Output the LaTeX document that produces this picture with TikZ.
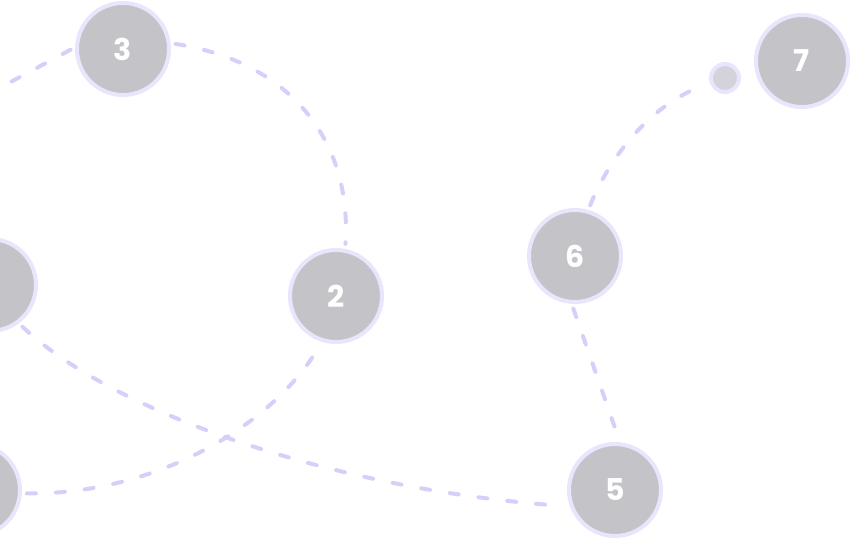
\documentclass[tikz,border=0pt]{standalone}
\usepackage{fontspec}
\newfontfamily\numfont{Poppins}
\definecolor{nodefill}{HTML}{C4C3C8}
\definecolor{smallfill}{HTML}{D4D2DB}
\definecolor{nodering}{HTML}{E8E5FC}
\definecolor{linkcol}{HTML}{D6CFFA}
\tikzset{
  bignode/.style={circle, fill=nodefill, draw=nodering, line width=4pt, minimum size=92pt, inner sep=0pt,
    text=white, font=\numfont\bfseries\fontsize{30}{30}\selectfont},
  smallnode/.style={circle, fill=smallfill, draw=nodering, line width=4pt, minimum size=28pt, inner sep=0pt},
  link/.style={draw=linkcol, line width=4pt, line cap=round, dash pattern=on 9pt off 20pt,
    shorten <=5pt, shorten >=5pt}
}
\begin{document}
\begin{tikzpicture}[x=1pt,y=-1pt]
\useasboundingbox (0,0) rectangle (853,540);
\clip (0,0) rectangle (853,540);
\node[bignode] (n3) at (123,49) {3};
\node[bignode] (n2) at (336,296) {2};
\node[bignode] (n6) at (575,256) {6};
\node[bignode] (n5) at (615,490) {5};
\node[bignode] (n7) at (802,61) {7};
\node[smallnode] (s7) at (725,78) {};
\node[bignode] (n4) at (-10,285) {4};
\node[bignode] (n1) at (-26,490) {};
\coordinate (off1) at (-60,120);
\draw[link] (n3.178) -- (off1);
\draw[link] (n3.7) .. controls (290,62) and (352,140) .. (n2.79);
\draw[link] (n6.74) .. controls (615,145) and (660,100) .. (s7.200);
\draw[link] (n6.-94) -- (n5.84);
\draw[link] (n4.-53) .. controls (110,410) and (330,490) .. (n5.200);
\draw[link] (n1.-4) .. controls (150,495) and (270,430) .. (n2.-107);
\end{tikzpicture}
\end{document}
